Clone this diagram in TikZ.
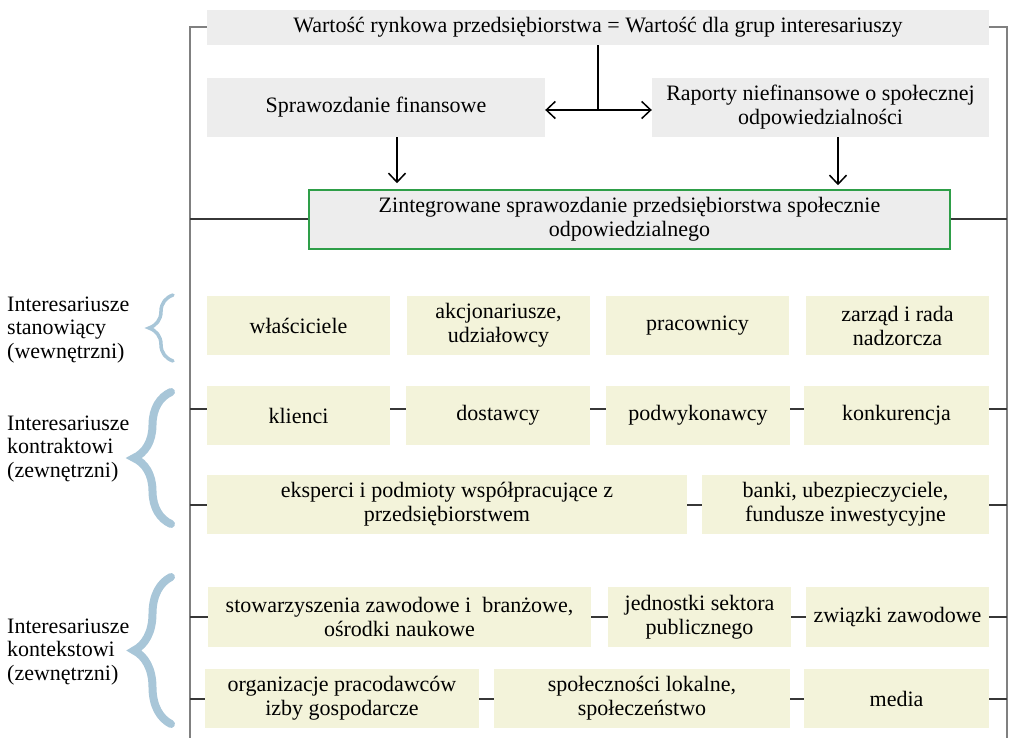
\documentclass[tikz,border=0pt]{standalone}
\usepackage{fontspec}
\setmainfont{Liberation Serif}
\usetikzlibrary{arrows.meta,decorations.pathreplacing}
\definecolor{boxgray}{RGB}{237,237,237}
\definecolor{boxcream}{RGB}{243,243,218}
\definecolor{zintgreen}{RGB}{46,158,72}
\definecolor{bracecol}{RGB}{168,198,216}
\definecolor{framegray}{RGB}{128,128,128}
\definecolor{linkgray}{RGB}{55,55,55}
\tikzset{barb/.tip={Straight Barb[length=9pt,width=17pt]}}

\begin{document}
\begin{tikzpicture}[x=1pt, y=-1pt,
		font=\fontsize{22}{24}\selectfont,
		graybox/.style={fill=boxgray, minimum height=59pt, inner sep=0pt, align=center},
		creambox/.style={fill=boxcream, minimum height=59pt, inner sep=0pt, align=center},
		frameline/.style={draw=framegray, line width=2pt},
		link/.style={draw=linkgray, line width=2pt},
		arr/.style={-barb, line width=1.5pt},
		curly/.style={draw=bracecol, line cap=round, decorate, decoration={brace, amplitude=#1}},
		grouplabel/.style={anchor=west, align=left, inner sep=0pt, font=\fontsize{22}{23.5}\selectfont}]
		\useasboundingbox (0,0) rectangle (1009,738);

		% top part
		\node[graybox, minimum width=782pt, minimum height=35pt] (wartosc) at (598,27.5) {Wartość rynkowa przedsiębiorstwa = Wartość dla grup interesariuszy};
		\node[graybox, minimum width=338pt] (fin) at (376,107.5) {Sprawozdanie finansowe};
		\node[graybox, minimum width=337pt] (raporty) at (820.5,107.5) {Raporty niefinansowe o społecznej\\odpowiedzialności};
		\node[graybox, draw=zintgreen, line width=1.5pt, minimum width=641pt] (zint) at (629.5,219.5) {Zintegrowane sprawozdanie przedsiębiorstwa społecznie\\odpowiedzialnego};

		\coordinate (split) at (598,110);
		\draw[line width=1.5pt] (wartosc.south) -- (split);
		\draw[arr, barb-barb] (fin.east |- split) -- (raporty.west |- split);
		\draw[arr, shorten >=6pt] ([xshift=21pt]fin.south) -- ([xshift=21pt]fin.south |- zint.north);
		\draw[arr, shorten >=4pt] ([xshift=17.5pt]raporty.south) -- ([xshift=17.5pt]raporty.south |- zint.north);

		% stakeholders
		\node[creambox, minimum width=183pt] (wlasc) at (298.5,325.5) {właściciele};
		\node[creambox, minimum width=183pt] (akcj) at (498.5,325.5) {akcjonariusze,\\udziałowcy};
		\node[creambox, minimum width=183pt] (prac) at (697.5,325.5) {pracownicy};
		\node[creambox, minimum width=183pt] (zarzad) at (897.5,325.5) {zarząd i rada\\nadzorcza};

		\node[creambox, minimum width=183pt] (klienci) at (298.5,415.5) {klienci};
		\node[creambox, minimum width=184pt] (dostawcy) at (498,415.5) {dostawcy};
		\node[creambox, minimum width=184pt] (podwyk) at (698,415.5) {podwykonawcy};
		\node[creambox, minimum width=185pt] (konk) at (896.5,415.5) {konkurencja};

		\node[creambox, minimum width=480pt] (eksperci) at (447,504.5) {eksperci i podmioty współpracujące z\\przedsiębiorstwem};
		\node[creambox, minimum width=287pt] (banki) at (845.5,504.5) {banki, ubezpieczyciele,\\fundusze inwestycyjne};

		\node[creambox, minimum width=383pt, minimum height=60pt] (stow) at (399.5,617) {stowarzyszenia zawodowe i\ \ branżowe,\\ośrodki naukowe};
		\node[creambox, minimum width=183pt, minimum height=60pt] (jedn) at (699.5,617) {jednostki sektora\\publicznego};
		\node[creambox, minimum width=183pt, minimum height=60pt] (zwiazki) at (897.5,617) {związki zawodowe};

		\node[creambox, minimum width=274pt] (org) at (342,698.5) {organizacje pracodawców\\izby gospodarcze};
		\node[creambox, minimum width=296pt] (spol) at (642,698.5) {społeczności lokalne,\\społeczeństwo};
		\node[creambox, minimum width=185pt] (media) at (896.5,698.5) {media};

		% frame
		\coordinate (fl) at (190,738);
		\coordinate (fr) at (1007,738);
		\draw[frameline] (wartosc.west) -| (fl);
		\draw[frameline] (wartosc.east) -| (fr);

		\draw[link] (zint.west) -- (zint.west -| fl);
		\draw[link] (zint.east) -- (zint.east -| fr);
		\draw[link] ([yshift=7pt]klienci.west) -- ([yshift=7pt]klienci.west -| fl);
		\draw[link] ([yshift=7pt]konk.east) -- ([yshift=7pt]konk.east -| fr);
		\foreach \a/\b in {klienci/dostawcy, dostawcy/podwyk, podwyk/konk}
			\draw[link] ([yshift=7pt]\a.east) -- ([yshift=7pt]\b.west);
		\foreach \a/\b in {eksperci/banki, stow/jedn, jedn/zwiazki, org/spol, spol/media}
			\draw[link] (\a.east) -- (\b.west);
		\foreach \n in {eksperci, stow, org}
			\draw[link] (\n.west) -- (\n.west -| fl);
		\foreach \n in {banki, zwiazki, media}
			\draw[link] (\n.east) -- (\n.east -| fr);

		% groups
		\node[grouplabel] (lab1) at (7,330) {Interesariusze\\stanowiący\\(wewnętrzni)};
		\node[grouplabel] (lab2) at (7,449) {Interesariusze\\kontraktowi\\(zewnętrzni)};
		\node[grouplabel] (lab3) at (7,652) {Interesariusze\\kontekstowi\\(zewnętrzni)};

		\draw[curly=24pt, line width=3.5pt] (173,361) -- (173,295);
		\draw[curly=37pt, line width=8pt] (171,524) -- (171,392);
		\draw[curly=37pt, line width=8pt] (171,724) -- (171,577);
	\end{tikzpicture}
\end{document}
